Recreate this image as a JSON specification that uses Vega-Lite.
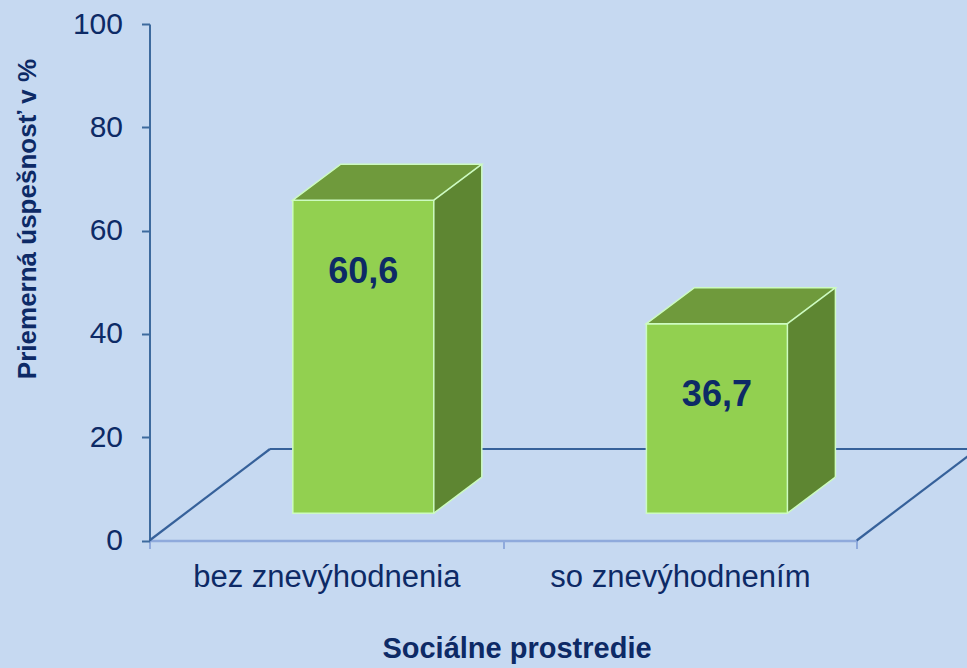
{
  "$schema": "https://vega.github.io/schema/vega-lite/v6.json",
  "width": 707.2,
  "height": 516.5,
  "autosize": {"type": "none"},
  "padding": {"left": 149.5, "top": 24, "right": 110.3, "bottom": 127.5},
  "background": "#C6D9F1",
  "config": {
    "view": {"stroke": null},
    "font": "Liberation Sans",
    "locale": {"number": {"decimal": ",", "thousands": "\u00a0", "grouping": [3], "currency": ["", "\u00a0€"]}}
  },
  "data": {"values": [
    {"cat": "bez znevýhodnenia", "value": 60.6},
    {"cat": "so znevýhodnením", "value": 36.7}
  ]},
  "encoding": {
    "x": {
      "field": "cat", "type": "nominal", "sort": null,
      "scale": {"paddingInner": 0, "paddingOuter": 0},
      "axis": {
        "title": "Sociálne prostredie", "titleFontSize": 29, "titleFontWeight": "bold", "titleColor": "#0D2A66",
        "titleY": 117, "titleX": 367, "titleAlign": "center", "titleBaseline": "alphabetic",
        "labelAngle": 0, "labelFontSize": 31, "labelColor": "#0D2A66", "labelPadding": 14, "labelLimit": 0,
        "domainColor": "#8FAADC", "domainWidth": 2.5, "tickColor": "#8FAADC", "tickWidth": 2, "tickSize": 8,
        "tickBand": "extent", "grid": false
      }
    },
    "y": {
      "field": "value", "type": "quantitative",
      "scale": {"domain": [0, 100]},
      "axis": {
        "title": "Priemerná úspešnosť v %", "titleFontSize": 26, "titleFontWeight": "bold", "titleColor": "#0D2A66",
        "titleAngle": -90, "titleX": -114, "titleY": 194.5, "titleAlign": "center", "titleBaseline": "alphabetic",
        "values": [0, 20, 40, 60, 80, 100], "grid": false,
        "domainColor": "#3D6A9E", "domainWidth": 2, "tickColor": "#3D6A9E", "tickWidth": 2, "tickSize": 8,
        "labelFontSize": 30, "labelColor": "#0D2A66", "labelPadding": 19
      }
    }
  },
  "layer": [
    {
      "transform": [{"filter": "datum.cat == 'bez znevýhodnenia'"}],
      "mark": {"type": "rule", "color": "#36619A", "strokeWidth": 2.2, "xOffset": -176.8, "x2Offset": -56.3, "y2Offset": -91.5},
      "encoding": {
        "x2": {"field": "cat"},
        "y": {"datum": 0, "type": "quantitative"},
        "y2": {"datum": 0}
      }
    },
    {
      "transform": [{"filter": "datum.cat == 'bez znevýhodnenia'"}],
      "mark": {"type": "rule", "color": "#36619A", "strokeWidth": 2.2, "xOffset": -56.3, "x2Offset": 660, "yOffset": -91.5, "y2Offset": -91.5},
      "encoding": {
        "x2": {"field": "cat"},
        "y": {"datum": 0, "type": "quantitative"},
        "y2": {"datum": 0}
      }
    },
    {
      "transform": [{"filter": "datum.cat == 'bez znevýhodnenia'"}],
      "mark": {"type": "rule", "color": "#36619A", "strokeWidth": 2.2, "xOffset": 530.4, "x2Offset": 653.6, "y2Offset": -93.5},
      "encoding": {
        "x2": {"field": "cat"},
        "y": {"datum": 0, "type": "quantitative"},
        "y2": {"datum": 0}
      }
    },
    {
      "mark": {"type": "bar", "width": 48, "xOffset": 131.5, "yOffset": -63.3, "y2Offset": -63.3, "color": "#5E8632"},
      "encoding": {"y2": {"datum": 0}}
    },
    {
      "mark": {"type": "point", "shape": "M-1,-0.833L1,-0.833L1,-0.529L-1,0.971Z", "size": 2304, "filled": true, "opacity": 1, "fill": "#5E8632", "strokeWidth": 0, "xOffset": 131.5, "yOffset": -50.5},
      "encoding": {"y": {"datum": 0, "type": "quantitative"}}
    },
    {
      "mark": {"type": "bar", "width": 141, "xOffset": 37, "yOffset": -27.3, "y2Offset": -27.3, "color": "#92D050", "stroke": "#CDFBC1", "strokeWidth": 1.5},
      "encoding": {"y2": {"datum": 0}}
    },
    {
      "mark": {"type": "point", "shape": "M-1,0.1905L-0.492,-0.1905L1,-0.1905L0.492,0.1905Z", "size": 35721, "filled": true, "opacity": 1, "fill": "#6F9A3C", "stroke": "#CDFBC1", "strokeWidth": 1.5, "xOffset": 61, "yOffset": -45.3}
    },
    {
      "mark": {"type": "rule", "color": "#CDFBC1", "strokeWidth": 1.5, "xOffset": 155.5, "yOffset": -63.3, "y2Offset": -63.3},
      "encoding": {"y2": {"datum": 0}}
    },
    {
      "mark": {"type": "rule", "color": "#CDFBC1", "strokeWidth": 1.5, "xOffset": 107.5, "x2Offset": 155.5, "yOffset": -27.3, "y2Offset": -63.3},
      "encoding": {"x2": {"field": "cat"}, "y": {"datum": 0, "type": "quantitative"}, "y2": {"datum": 0}}
    },
    {
      "mark": {"type": "text", "fontSize": 36, "fontWeight": "bold", "color": "#0D2A66", "xOffset": 37, "yOffset": 44, "baseline": "middle", "align": "center"},
      "encoding": {"text": {"field": "value", "type": "quantitative", "format": ".1f"}}
    }
  ]
}
